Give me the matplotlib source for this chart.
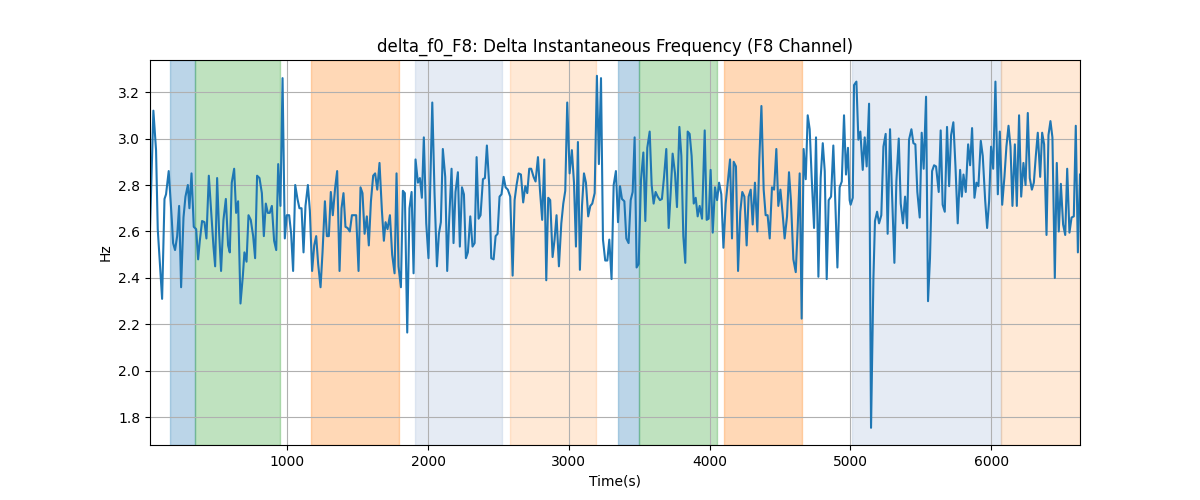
import matplotlib
matplotlib.use("Agg")
import matplotlib.pyplot as plt

# time stamps (s) and delta f0 values (Hz)
times = [
    23, 47, 66, 78, 109, 126, 137, 156, 178, 187, 201, 216, 230, 244, 261, 275, 292, 303, 318, 334,
    351, 365, 377, 393, 410, 424, 441, 457, 474, 486, 500, 514, 528, 545, 562, 578, 590, 604, 621, 635,
    649, 666, 683, 694, 709, 723, 739, 756, 770, 784, 801, 818, 832, 846, 860, 874, 889, 905, 920, 934,
    950, 965, 981, 995, 1012, 1026, 1040, 1055, 1071, 1085, 1100, 1114, 1128, 1145, 1159, 1175, 1190, 1204, 1218, 1235,
    1249, 1266, 1280, 1294, 1308, 1322, 1339, 1353, 1370, 1384, 1398, 1412, 1427, 1443, 1458, 1472, 1488, 1505, 1519, 1533,
    1548, 1564, 1578, 1593, 1609, 1623, 1638, 1654, 1671, 1685, 1697, 1711, 1728, 1744, 1761, 1775, 1789, 1806, 1820, 1834,
    1851, 1867, 1882, 1896, 1910, 1927, 1941, 1955, 1969, 1986, 2002, 2029, 2045, 2062, 2076, 2090, 2104, 2121, 2135, 2149,
    2166, 2180, 2194, 2211, 2225, 2240, 2254, 2268, 2282, 2299, 2315, 2330, 2344, 2358, 2372, 2389, 2403, 2417, 2434, 2448,
    2465, 2479, 2493, 2507, 2521, 2536, 2550, 2566, 2583, 2600, 2614, 2628, 2642, 2659, 2675, 2690, 2704, 2718, 2732, 2749,
    2763, 2780, 2794, 2810, 2825, 2839, 2853, 2867, 2884, 2898, 2912, 2929, 2946, 2960, 2974, 2988, 3005, 3021, 3036, 3050,
    3064, 3078, 3093, 3107, 3121, 3137, 3152, 3166, 3183, 3199, 3213, 3228, 3242, 3258, 3273, 3287, 3303, 3318, 3334, 3349,
    3363, 3377, 3394, 3408, 3424, 3439, 3453, 3467, 3481, 3496, 3512, 3529, 3543, 3557, 3574, 3588, 3602, 3616, 3631, 3647,
    3661, 3676, 3692, 3709, 3723, 3737, 3754, 3768, 3785, 3799, 3813, 3827, 3844, 3858, 3872, 3887, 3901, 3915, 3929, 3946,
    3965, 3979, 3993, 4007, 4022, 4038, 4053, 4067, 4083, 4098, 4114, 4130, 4145, 4159, 4171, 4187, 4202, 4218, 4232, 4247,
    4263, 4277, 4292, 4306, 4322, 4339, 4353, 4368, 4384, 4398, 4412, 4427, 4443, 4458, 4474, 4488, 4503, 4519, 4533, 4550,
    4564, 4578, 4595, 4612, 4626, 4640, 4654, 4668, 4683, 4697, 4711, 4725, 4742, 4756, 4773, 4789, 4804, 4818, 4832, 4846,
    4863, 4879, 4894, 4908, 4924, 4939, 4955, 4969, 4983, 4995, 5002, 5017, 5026, 5043, 5057, 5071, 5088, 5102, 5116, 5133,
    5147, 5164, 5175, 5190, 5204, 5220, 5235, 5251, 5265, 5282, 5296, 5313, 5327, 5344, 5358, 5374, 5389, 5403, 5417, 5434,
    5448, 5462, 5476, 5493, 5507, 5521, 5538, 5552, 5566, 5581, 5595, 5609, 5628, 5642, 5656, 5671, 5687, 5702, 5716, 5732,
    5747, 5763, 5780, 5792, 5804, 5820, 5837, 5851, 5865, 5882, 5896, 5910, 5927, 5941, 5958, 5972, 5986, 6000, 6015, 6031,
    6048, 6062, 6079, 6095, 6109, 6124, 6138, 6152, 6169, 6183, 6199, 6214, 6230, 6245, 6261, 6275, 6290, 6304, 6318, 6332,
    6349, 6363, 6377, 6394, 6408, 6422, 6436, 6453, 6467, 6481, 6496, 6512, 6527, 6541, 6557, 6572, 6588, 6602, 6617, 6632,
]
delta_f0 = [
    2.61, 3.12, 2.95, 2.61, 2.31, 2.74, 2.76, 2.86, 2.65, 2.55, 2.52, 2.58, 2.71, 2.36, 2.66, 2.75, 2.80, 2.70, 2.85, 2.62,
    2.61, 2.48, 2.56, 2.645, 2.64, 2.57, 2.84, 2.69, 2.535, 2.45, 2.83, 2.60, 2.43, 2.65, 2.74, 2.54, 2.51, 2.81, 2.87, 2.68,
    2.73, 2.29, 2.41, 2.51, 2.47, 2.67, 2.65, 2.58, 2.485, 2.84, 2.83, 2.765, 2.58, 2.72, 2.68, 2.68, 2.71, 2.56, 2.52, 2.89,
    2.71, 3.26, 2.57, 2.67, 2.67, 2.59, 2.43, 2.80, 2.74, 2.70, 2.70, 2.51, 2.71, 2.80, 2.69, 2.43, 2.54, 2.58, 2.46, 2.36,
    2.51, 2.73, 2.58, 2.58, 2.77, 2.67, 2.79, 2.86, 2.43, 2.70, 2.765, 2.62, 2.615, 2.60, 2.67, 2.67, 2.67, 2.43, 2.79, 2.765,
    2.59, 2.665, 2.54, 2.73, 2.84, 2.85, 2.78, 2.895, 2.69, 2.56, 2.64, 2.61, 2.67, 2.50, 2.42, 2.85, 2.45, 2.36, 2.775, 2.765,
    2.165, 2.70, 2.77, 2.42, 2.91, 2.81, 2.83, 2.745, 3.005, 2.635, 2.485, 3.155, 2.765, 2.45, 2.59, 2.64, 2.955, 2.835, 2.43, 2.65,
    2.87, 2.55, 2.77, 2.855, 2.535, 2.79, 2.76, 2.485, 2.51, 2.665, 2.535, 2.55, 2.92, 2.655, 2.67, 2.825, 2.83, 2.97, 2.795, 2.485,
    2.48, 2.58, 2.59, 2.75, 2.76, 2.835, 2.79, 2.78, 2.75, 2.41, 2.735, 2.80, 2.85, 2.845, 2.725, 2.795, 2.765, 2.87, 2.87, 2.835,
    2.815, 2.92, 2.78, 2.65, 2.91, 2.39, 2.745, 2.735, 2.49, 2.565, 2.67, 2.45, 2.635, 2.72, 2.775, 3.155, 2.85, 2.95, 2.81, 2.535,
    2.985, 2.435, 2.71, 2.85, 2.81, 2.665, 2.71, 2.72, 2.765, 3.27, 2.89, 3.26, 2.565, 2.475, 2.475, 2.565, 2.395, 2.80, 2.86, 2.64,
    2.795, 2.74, 2.73, 2.57, 2.55, 2.735, 2.77, 3.005, 2.445, 2.46, 2.82, 2.94, 2.645, 2.96, 3.03, 2.80, 2.72, 2.77, 2.75, 2.735,
    2.74, 2.835, 2.955, 2.615, 2.765, 2.935, 2.85, 2.705, 3.05, 2.925, 2.58, 2.465, 3.03, 3.02, 2.925, 2.72, 2.745, 2.665, 2.71, 2.655,
    3.035, 2.65, 2.655, 2.865, 2.595, 2.79, 2.735, 2.81, 2.76, 2.53, 2.72, 2.82, 2.91, 2.57, 2.90, 2.88, 2.43, 2.685, 2.77, 2.75,
    2.54, 2.75, 2.78, 2.63, 2.81, 2.60, 2.91, 3.14, 2.78, 2.67, 2.67, 2.57, 2.79, 2.78, 2.955, 2.71, 2.78, 2.675, 2.57, 2.665,
    2.855, 2.73, 2.48, 2.425, 2.62, 2.85, 2.225, 2.955, 2.825, 3.10, 3.04, 2.835, 2.615, 3.005, 2.405, 2.83, 2.98, 2.86, 2.395, 2.735,
    2.75, 2.97, 2.71, 2.445, 2.79, 2.815, 3.10, 2.845, 2.96, 2.735, 2.715, 2.745, 3.23, 3.245, 2.995, 3.03, 2.865, 3.005, 2.88, 3.15,
    1.755, 2.40, 2.645, 2.685, 2.635, 2.67, 2.965, 3.02, 2.59, 3.04, 2.765, 2.465, 2.815, 3.00, 2.72, 2.635, 2.75, 2.615, 2.995, 3.04,
    2.98, 2.975, 2.77, 2.66, 3.025, 2.87, 3.18, 2.30, 2.485, 2.86, 2.885, 2.88, 2.77, 3.035, 2.715, 2.685, 3.05, 2.795, 3.015, 3.07,
    2.88, 2.635, 2.865, 2.75, 2.845, 2.77, 2.975, 2.885, 3.045, 2.745, 2.81, 2.795, 2.99, 2.925, 2.735, 2.615, 2.73, 2.965, 2.87, 3.245,
    2.76, 3.03, 2.715, 2.835, 2.965, 3.055, 2.965, 2.71, 2.975, 2.71, 3.10, 2.75, 2.895, 2.80, 3.11, 2.83, 2.78, 2.81, 2.925, 3.025,
    2.835, 3.025, 2.975, 2.585, 3.015, 3.075, 3.005, 2.40, 2.895, 2.60, 2.805, 2.63, 2.585, 2.87, 2.595, 2.66, 2.665, 3.055, 2.51, 2.845,
]

# shaded segments: (start, end, colour, alpha)
span_starts = [163, 346, 1166, 1905, 2581, 3351, 3496, 4102, 5014, 6071]
span_ends = [346, 948, 1789, 2524, 3190, 3496, 4050, 4654, 6071, 6633]
span_colors = ["C0", "C2", "C1", "lightsteelblue", "C1", "C0", "C2", "C1", "lightsteelblue", "C1"]
span_alphas = [0.3, 0.3, 0.3, 0.33, 0.17, 0.3, 0.3, 0.3, 0.33, 0.17]

fig, ax = plt.subplots(figsize=(12, 5), dpi=100)

for s, e, c, a in zip(span_starts, span_ends, span_colors, span_alphas):
    ax.axvspan(s, e, color=c, alpha=a)

ax.plot(times, delta_f0, color="C0", linewidth=1.5)

ax.set_xlim(times[0], times[-1])
ax.set_ylim(1.681, 3.338)
ax.set_title("delta_f0_F8: Delta Instantaneous Frequency (F8 Channel)")
ax.set_xlabel("Time(s)")
ax.set_ylabel("Hz")
ax.grid(True)

plt.savefig("out.png")
